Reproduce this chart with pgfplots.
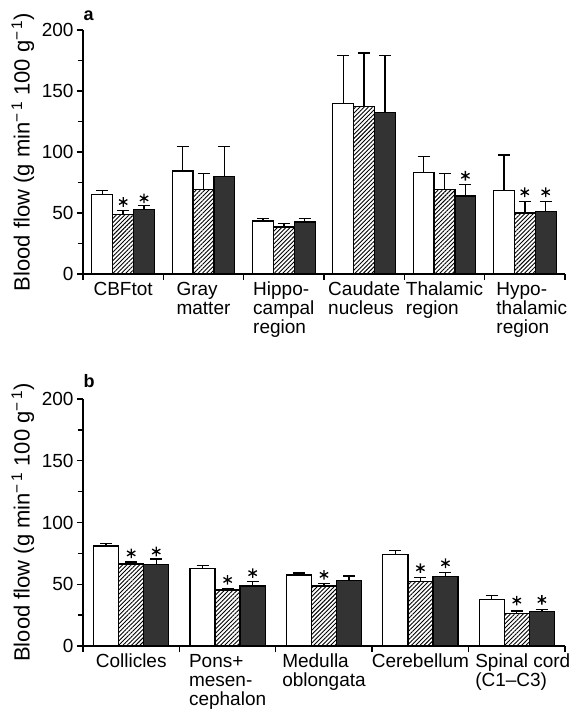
\documentclass[border=0pt]{standalone}
\usepackage{fontspec}
\setmainfont{Liberation Sans}
\usepackage{pgfplots}
\pgfplotsset{compat=1.18}
\usetikzlibrary{patterns.meta}

\pgfplotsset{
  panel/.style={
    scale only axis, width=482pt, anchor=south west,
    ybar=0pt, bar width=0.26,
    xmin=-0.5, ymin=0, ymax=200,
    axis lines*=left,
    axis line style={line width=1.7pt, -},
    ytick={0,50,100,150,200}, minor ytick={25,75,125,175},
    tick align=outside, major tick length=6pt, minor tick length=5pt,
    every tick/.style={black, line width=1.4pt},
    x tick label as interval,
    xticklabel style={align=left, font=\fontsize{19}{19}\selectfont, yshift=1.5pt},
    yticklabel style={font=\fontsize{19}{19}\selectfont},
    /pgf/number format/assume math mode=true,
    every axis y label/.style={at={(axis description cs:-0.125,0.5)}, rotate=90, anchor=center,
      font=\fontsize{22}{22}\selectfont},
    ylabel={Blood flow (g min\textsuperscript{−\,1} 100 g\textsuperscript{−\,1})},
    clip=false,
  },
  eb/.style={error bars/.cd, y dir=plus, y explicit, error mark=-,
    error bar style={line width=1.4pt, black, solid, fill=none, pattern=none},
    error mark options={line width=1.4pt, mark size=6pt, black, rotate=90}},
  wbar/.style={bar shift=-0.26, draw=black, line width=1.3pt, fill=white},
  hbar/.style={bar shift=0, draw=black, line width=1.3pt,
    pattern={Lines[angle=45, distance=3pt, line width=0.9pt]}, pattern color=black},
  dbar/.style={bar shift=0.26, draw=black, line width=1.3pt, fill=black!80},
  stars/.style={sharp plot, only marks, mark=asterisk, mark size=4.8pt, mark options={line width=1.3pt, black}},
}

\begin{document}
\begin{tikzpicture}
\useasboundingbox (0,0) rectangle (580pt,713pt);

% Panel a
\begin{axis}[panel, at={(83pt,439pt)}, height=244pt, xmax=5.5,
  xtick={-0.5,0.5,...,5.5},
  xticklabels={CBFtot, {Gray\\matter}, {Hippo-\\campal\\region}, {Caudate\\nucleus},
    {Thalamic\\region}, {\hspace*{14pt}Hypo-\\\hspace*{14pt}thalamic\\\hspace*{14pt}region}}]
\addplot[wbar, eb] coordinates {
  (0,65) +- (0,3.3) (1,84.5) +- (0,20) (2,43.5) +- (0,1.8)
  (3,140) +- (0,39) (4,83) +- (0,13.5) (5,68.5) +- (0,29)};
\addplot[hbar, eb] coordinates {
  (0,48.8) +- (0,3.2) (1,69) +- (0,13.5) (2,38.5) +- (0,3)
  (3,137.5) +- (0,43.5) (4,69) +- (0,13.5) (5,50) +- (0,9.3)};
\addplot[dbar, eb] coordinates {
  (0,53) +- (0,3) (1,80) +- (0,24.5) (2,42.5) +- (0,3)
  (3,132.5) +- (0,46.5) (4,64) +- (0,9.5) (5,51.5) +- (0,7.9)};
\addplot[stars] coordinates {(0,59) (0.26,62) (4.26,80.5) (5,67) (5.26,67)};
\node[anchor=base west, font=\bfseries\fontsize{18}{18}\selectfont] at (rel axis cs:-0.006,1.04) {a};
\end{axis}

% Panel b
\begin{axis}[panel, at={(83pt,67pt)}, height=247pt, xmax=4.5,
  xtick={-0.5,0.5,...,4.5},
  xticklabels={Collicles, {Pons+\\mesen-\\cephalon}, {Medulla\\oblongata}, Cerebellum,
    {\hspace*{12pt}Spinal cord\\\hspace*{12pt}(C1–C3)}}]
\addplot[wbar, eb] coordinates {
  (0,81) +- (0,2) (1,63) +- (0,2) (2,57.5) +- (0,1.5) (3,74.3) +- (0,3) (4,37.8) +- (0,3.3)};
\addplot[hbar, eb] coordinates {
  (0,66.5) +- (0,1.6) (1,45.3) +- (0,1.5) (2,48.6) +- (0,1.9) (3,52.2) +- (0,3.5) (4,26.5) +- (0,1.9)};
\addplot[dbar, eb] coordinates {
  (0,66) +- (0,4.3) (1,48.6) +- (0,3.6) (2,53) +- (0,3.8) (3,56.2) +- (0,3.3) (4,27.8) +- (0,1.9)};
\addplot[stars] coordinates {(0,75) (0.26,76.5) (1,53.5) (1.26,59) (2,57.6) (3,63) (3.26,67) (4,36.8) (4.26,37.3)};
\node[anchor=base west, font=\bfseries\fontsize{18}{18}\selectfont] at (rel axis cs:-0.006,1.045) {b};
\end{axis}
\end{tikzpicture}
\end{document}
